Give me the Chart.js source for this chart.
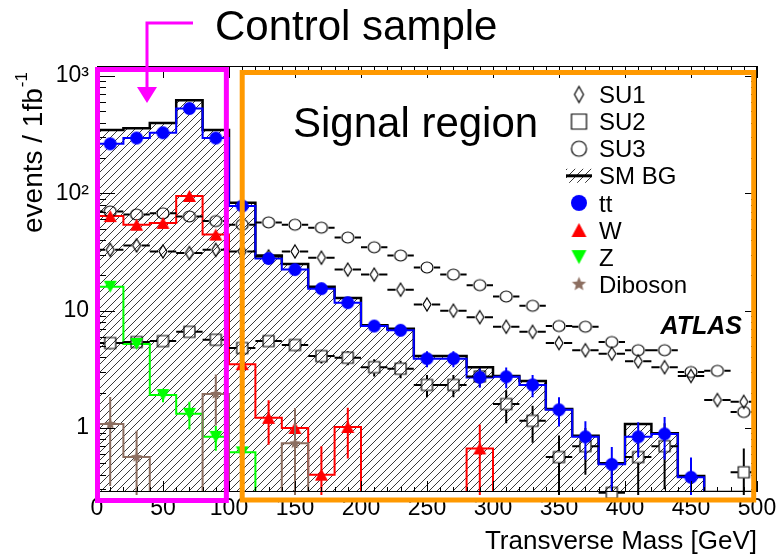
<!DOCTYPE html>
<html>
<head>
<meta charset="utf-8">
<script src="https://cdn.jsdelivr.net/npm/chart.js@4.4.0/dist/chart.umd.min.js"></script>
<style>
  html, body { margin: 0; padding: 0; background: #fff; }
  canvas { display: block; }
</style>
</head>
<body>
<canvas id="mt" width="782" height="557"></canvas>
<script>
// 25 bins of 20 GeV, values are events / 1 fb-1
const binWidth = 20;
const binCenters = [10, 30, 50, 70, 90, 110, 130, 150, 170, 190, 210, 230, 250,
                    270, 290, 310, 330, 350, 370, 390, 410, 430, 450, 470, 490];

const smBG    = [346, 359, 397, 622, 346, 83, 29.5, 25, 16, 12.8, 7.5, 7.0, 4.1,
                 4.1, 3.3, 2.78, 2.52, 1.45, 0.86, 0.5, 1.08, 0.9, 0.39, 0, 0];
const ttbar   = [264, 296, 328, 528, 296, 78, 27.8, 22.4, 15.4, 11.7, 7.4, 6.8, 3.9,
                 3.9, 2.7, 2.73, 2.33, 1.43, 0.84, 0.49, 0.84, 0.89, 0.38, 0, 0];
const ttbarErr = [0, 0, 0, 0, 0, 0, 0, 0, 0, 0, 0, 0, 0.6,
                  0.6, 0.5, 0.55, 0.5, 0.4, 0.3, 0.2, 0.28, 0.35, 0.18, 0, 0];
const wJets   = [64, 54, 56, 95, 44.5, 3.5, 1.22, 1.0, 0.40, 1.02, 0, 0, 0,
                 0, 0.67, 0, 0, 0, 0, 0, 0, 0, 0, 0, 0];
const wJetsErr = [0, 0, 0, 0, 0, 0, 0.5, 0, 0.3, 0.47, 0, 0, 0,
                  0, 0.4, 0, 0, 0, 0, 0, 0, 0, 0, 0, 0];
const zJets   = [16, 5.2, 1.91, 1.32, 0.84, 0.62, 0, 0, 0, 0, 0, 0, 0,
                 0, 0, 0, 0, 0, 0, 0, 0, 0, 0, 0, 0];
const zJetsErr = [0, 0.4, 0.25, 0.35, 0.2, 0, 0, 0, 0, 0, 0, 0, 0,
                  0, 0, 0, 0, 0, 0, 0, 0, 0, 0, 0, 0];
const diboson = [1.08, 0.565, 0, 0, 1.95, 0, 0, 0.74, 0, 0, 0, 0, 0,
                 0, 0, 0, 0, 0, 0, 0, 0, 0, 0, 0, 0];
const dibosonErr = [0.76, 0.38, 0, 0, 0.9, 0, 0, 0.74, 0, 0, 0, 0, 0,
                    0, 0, 0, 0, 0, 0, 0, 0, 0, 0, 0, 0];
const su1 = [33, 36, 32, 31, 33, 32, 29, 32, 28.3, 22.4, 20.3, 15.1, 11.3,
             10, 8.8, 7.3, 6.6, 5.3, 4.6, 4.3, 3.7, 3.3, 2.78, 1.73, 1.67];
const su2 = [5.3, 5.4, 5.5, 6.6, 5.65, 4.8, 5.5, 5.1, 4.1, 3.97, 3.3, 3.2, 2.33,
             2.33, 2.75, 1.6, 1.15, 0.565, 0.70, 0.28, 0.565, 0.70, 0, 0, 0.42];
const su2Err = [0.6, 0.6, 0.6, 0.6, 0.6, 0.55, 0.6, 0.6, 0.55, 0.55, 0.55, 0.55, 0.5,
                0.5, 0.5, 0.5, 0.4, 0.3, 0.3, 0.2, 0.35, 0.4, 0, 0, 0.25];
const su3 = [70, 66, 67.5, 63.5, 58, 54, 56.5, 54, 51, 42, 34.7, 29.5, 23.3,
             20.3, 16.5, 13.2, 11, 7.4, 7.3, 5.4, 4.6, 4.6, 3.0, 3.07, 1.37];

const xTicks = [0, 50, 100, 150, 200, 250, 300, 350, 400, 450, 500];
const yDecadeLabels = {0: '1', 1: '10', 2: '10²', 3: '10³'};
const legendOrder = ['SU1', 'SU2', 'SU3', 'SM BG', 'tt', 'W', 'Z', 'Diboson'];

const yMin = 0.2847, yMax = 1217;
const FONT = "'Liberation Sans', Arial, Helvetica, sans-serif";
const BLUE = '#0000ff', RED = '#ff0000', GREEN = '#00ff00', BROWN = '#8c6e60';
const MAGENTA = '#ff00ff', ORANGE = '#ff9900';

Chart.defaults.font.family = FONT;

// histogram outline: one point per low edge, plus the last high edge
function steps(vals) {
    const pts = binCenters.map((c, i) => ({x: c - binWidth / 2, y: vals[i] > 0 ? vals[i] : yMin}));
    pts.push({x: binCenters[binCenters.length - 1] + binWidth / 2, y: pts[pts.length - 1].y});
    return pts;
}

function points(vals) {
    return binCenters.map((c, i) => ({x: c, y: vals[i] > 0 ? vals[i] : null}));
}

function marker(kind, w, h, fill, stroke) {
    const pad = 2;
    const c = document.createElement('canvas');
    c.width = w + pad * 2;
    c.height = h + pad * 2;
    const g = c.getContext('2d');
    g.translate(c.width / 2, c.height / 2);
    g.beginPath();
    if (kind === 'circle') {
        g.ellipse(0, 0, w / 2, h / 2, 0, 0, Math.PI * 2);
    } else if (kind === 'square') {
        g.rect(-w / 2, -h / 2, w, h);
    } else if (kind === 'diamond') {
        g.moveTo(0, -h / 2); g.lineTo(w / 2, 0); g.lineTo(0, h / 2); g.lineTo(-w / 2, 0); g.closePath();
    } else if (kind === 'triUp') {
        g.moveTo(0, -h / 2); g.lineTo(w / 2, h / 2); g.lineTo(-w / 2, h / 2); g.closePath();
    } else if (kind === 'triDown') {
        g.moveTo(0, h / 2); g.lineTo(w / 2, -h / 2); g.lineTo(-w / 2, -h / 2); g.closePath();
    } else if (kind === 'star') {
        for (let k = 0; k < 10; k++) {
            const r = k % 2 === 0 ? w / 2 : w / 4.5;
            const a = -Math.PI / 2 + k * Math.PI / 5;
            g.lineTo(r * Math.cos(a), r * Math.sin(a));
        }
        g.closePath();
    }
    if (fill) { g.fillStyle = fill; g.fill(); }
    if (stroke) { g.strokeStyle = stroke; g.lineWidth = 1.2; g.stroke(); }
    return c;
}

const canvas = document.getElementById('mt');
const ctx0 = canvas.getContext('2d');

const tile = document.createElement('canvas');
tile.width = 8; tile.height = 8;
const tg = tile.getContext('2d');
tg.strokeStyle = '#3a3a3a';
tg.lineWidth = 1;
tg.beginPath();
tg.moveTo(-1, 9); tg.lineTo(9, -1);
tg.moveTo(-1, 1); tg.lineTo(1, -1);
tg.moveTo(7, 9); tg.lineTo(9, 7);
tg.stroke();
const hatch = ctx0.createPattern(tile, 'repeat');

function histLine(label, vals, color, width, order) {
    return {
        label: label, data: steps(vals), borderColor: color, borderWidth: width,
        stepped: 'before', pointRadius: 0, fill: false, order: order
    };
}

function markerSet(label, vals, icon, legendIcon, errBar, order) {
    return {
        label: label, data: points(vals), showLine: false, pointStyle: icon,
        pointRadius: 6, legendIcon: legendIcon, errBar: errBar, order: order, clip: false
    };
}

const datasets = [
    {
        label: 'SM BG', data: steps(smBG), borderColor: '#000', borderWidth: 2.5,
        stepped: 'before', pointRadius: 0, fill: 'start', backgroundColor: hatch, order: 20
    },
    histLine('tt line', ttbar, BLUE, 2, 19),
    histLine('W line', wJets, RED, 2, 18),
    histLine('Z line', zJets, GREEN, 2, 17),
    histLine('Diboson line', diboson, BROWN, 2, 16),
    markerSet('SU1', su1, marker('diamond', 8, 13, null, '#000'), marker('diamond', 9, 16, null, '#000'),
        {err: null, color: '#000', hbar: true, gapX: 5, gapY: 7}, 10),
    markerSet('SU3', su3, marker('circle', 12, 11, null, '#000'), marker('circle', 15, 15, null, '#000'),
        {err: null, color: '#000', hbar: true, gapX: 7, gapY: 6}, 9),
    markerSet('SU2', su2, marker('square', 11, 11, null, '#000'), marker('square', 15, 15, null, '#000'),
        {err: su2Err, color: '#000', hbar: true, gapX: 6, gapY: 6}, 8),
    markerSet('tt', ttbar, marker('circle', 13, 13, BLUE, null), marker('circle', 16, 16, BLUE, null),
        {err: ttbarErr, color: BLUE, hbar: false, gapX: 0, gapY: 0}, 7),
    markerSet('W', wJets, marker('triUp', 13, 12, RED, null), marker('triUp', 15, 14, RED, null),
        {err: wJetsErr, color: RED, hbar: false, gapX: 0, gapY: 0}, 6),
    markerSet('Z', zJets, marker('triDown', 13, 12, GREEN, null), marker('triDown', 15, 14, GREEN, null),
        {err: zJetsErr, color: GREEN, hbar: false, gapX: 0, gapY: 0}, 5),
    markerSet('Diboson', diboson, marker('star', 12, 12, BROWN, null), marker('star', 15, 15, BROWN, null),
        {err: dibosonErr, color: BROWN, hbar: false, gapX: 0, gapY: 0}, 4)
];

const errorBars = {
    id: 'errorBars',
    beforeDatasetDraw(chart, args) {
        const ds = chart.data.datasets[args.index];
        if (!ds.errBar) return;
        const eb = ds.errBar;
        const {ctx, chartArea: a, scales: {x, y}} = chart;
        ctx.save();
        ctx.beginPath();
        ctx.rect(a.left, a.top, a.width, a.height + 3);
        ctx.clip();
        ctx.strokeStyle = eb.color;
        ctx.lineWidth = 2;
        ctx.beginPath();
        args.meta.data.forEach((pt, i) => {
            const v = ds.data[i].y;
            if (v == null) return;
            if (eb.hbar) {
                const xl = x.getPixelForValue(binCenters[i] - binWidth / 2);
                const xr = x.getPixelForValue(binCenters[i] + binWidth / 2);
                ctx.moveTo(xl, pt.y); ctx.lineTo(pt.x - eb.gapX, pt.y);
                ctx.moveTo(pt.x + eb.gapX, pt.y); ctx.lineTo(xr, pt.y);
            }
            const e = eb.err ? eb.err[i] : 0;
            if (e > 0) {
                const yt = y.getPixelForValue(v + e);
                const yb = v - e > yMin ? y.getPixelForValue(v - e) : a.bottom + 3;
                if (yt < pt.y - eb.gapY) { ctx.moveTo(pt.x, yt); ctx.lineTo(pt.x, pt.y - eb.gapY); }
                if (yb > pt.y + eb.gapY) { ctx.moveTo(pt.x, pt.y + eb.gapY); ctx.lineTo(pt.x, yb); }
            }
        });
        ctx.stroke();
        ctx.restore();
    }
};

const frameTicks = {
    id: 'frameTicks',
    afterDatasetsDraw(chart) {
        const {ctx, chartArea: a, scales: {x, y}} = chart;
        ctx.save();
        ctx.strokeStyle = '#000';
        ctx.lineWidth = 1;
        ctx.strokeRect(a.left + 0.5, a.top + 0.5, a.width - 1, a.height - 1);
        ctx.beginPath();
        for (let v = 0; v <= 500; v += 10) {
            const px = Math.round(x.getPixelForValue(v)) + 0.5;
            const major = v % 50 === 0;
            ctx.moveTo(px, a.bottom); ctx.lineTo(px, a.bottom - (major ? 11 : 5));
            ctx.moveTo(px, a.top); ctx.lineTo(px, a.top + (major ? 12 : 6));
        }
        for (let d = -1; d <= 3; d++) {
            for (let k = 1; k <= 9; k++) {
                const v = k * Math.pow(10, d);
                if (v < yMin || v > yMax) continue;
                const py = Math.round(y.getPixelForValue(v)) + 0.5;
                ctx.moveTo(a.left, py); ctx.lineTo(a.left + (k === 1 ? 18 : 9), py);
                ctx.moveTo(a.right, py); ctx.lineTo(a.right - (k === 1 ? 12 : 6), py);
            }
        }
        ctx.stroke();
        ctx.restore();
    }
};

const overlay = {
    id: 'overlay',
    afterDraw(chart) {
        const {ctx, chartArea: a, scales: {x}} = chart;
        ctx.save();

        // control / signal boxes
        ctx.lineWidth = 5;
        ctx.strokeStyle = MAGENTA;
        const mL = x.getPixelForValue(0) + 0.5, mR = x.getPixelForValue(98);
        ctx.strokeRect(mL, a.top + 3.5, mR - mL, a.height + 5);
        ctx.strokeStyle = ORANGE;
        const oL = x.getPixelForValue(110), oR = x.getPixelForValue(497.5);
        ctx.strokeRect(oL, a.top + 6.5, oR - oL, a.height + 1.5);

        // arrow to the control box
        ctx.strokeStyle = MAGENTA;
        ctx.fillStyle = MAGENTA;
        ctx.lineWidth = 3;
        ctx.beginPath();
        ctx.moveTo(193, 23); ctx.lineTo(147, 23); ctx.lineTo(147, 88);
        ctx.stroke();
        ctx.beginPath();
        ctx.moveTo(137, 87); ctx.lineTo(157, 87); ctx.lineTo(147, 103); ctx.closePath();
        ctx.fill();

        ctx.fillStyle = '#000';
        ctx.textBaseline = 'alphabetic';
        ctx.textAlign = 'left';
        ctx.font = `42px ${FONT}`;
        ctx.fillText('Control sample', 215, 40);
        ctx.fillText('Signal region', 293, 137);

        ctx.font = `italic bold 25px ${FONT}`;
        ctx.textAlign = 'right';
        ctx.fillText('ATLAS', 742, 334);

        // y axis title with superscript
        ctx.save();
        ctx.translate(42, 233);
        ctx.rotate(-Math.PI / 2);
        ctx.textAlign = 'left';
        ctx.font = `28px ${FONT}`;
        const main = 'events / 1fb';
        ctx.fillText(main, 0, 0);
        const w = ctx.measureText(main).width;
        ctx.font = `17px ${FONT}`;
        ctx.fillText('-1', w + 1, -15);
        ctx.restore();

        // legend
        ctx.textAlign = 'left';
        ctx.font = `24px ${FONT}`;
        legendOrder.forEach((name, i) => {
            const cy = 94.5 + i * 27.1;
            const ds = chart.data.datasets.find(d => d.label === name);
            if (name === 'SM BG') {
                ctx.fillStyle = hatch;
                ctx.fillRect(566, cy - 7, 26, 14);
                ctx.strokeStyle = '#000';
                ctx.lineWidth = 3;
                ctx.beginPath();
                ctx.moveTo(566, cy); ctx.lineTo(592, cy);
                ctx.stroke();
            } else if (ds && ds.legendIcon) {
                const ic = ds.legendIcon;
                ctx.drawImage(ic, 579 - ic.width / 2, cy - ic.height / 2);
            }
            ctx.fillStyle = '#000';
            ctx.fillText(name, 599, cy + 8.6);
        });
        ctx.restore();
    }
};

new Chart(canvas, {
    type: 'line',
    data: {datasets: datasets},
    options: {
        responsive: false,
        animation: false,
        devicePixelRatio: 1,
        layout: {padding: {left: 0, top: 66, right: 25, bottom: 0}},
        plugins: {legend: {display: false}, tooltip: {enabled: false}},
        scales: {
            x: {
                type: 'linear', min: 0, max: 500,
                afterFit: s => { s.height = 65; },
                afterBuildTicks: s => { s.ticks = xTicks.map(v => ({value: v})); },
                grid: {display: false, drawTicks: false},
                border: {display: false},
                ticks: {autoSkip: false, maxRotation: 0, padding: 3, color: '#000', font: {size: 23}},
                title: {
                    display: true, text: 'Transverse Mass [GeV]', align: 'end', color: '#000',
                    font: {size: 26}, padding: {top: 0, bottom: 0}
                }
            },
            y: {
                type: 'logarithmic', min: yMin, max: yMax,
                afterFit: s => { s.width = 97; },
                grid: {display: false, drawTicks: false},
                border: {display: false},
                ticks: {
                    autoSkip: false, padding: 8, color: '#000', font: {size: 23},
                    callback: v => {
                        const e = Math.log10(v);
                        return Math.abs(e - Math.round(e)) < 1e-6 ? (yDecadeLabels[Math.round(e)] || '') : '';
                    }
                }
            }
        }
    },
    plugins: [errorBars, frameTicks, overlay]
});
</script>
</body>
</html>
